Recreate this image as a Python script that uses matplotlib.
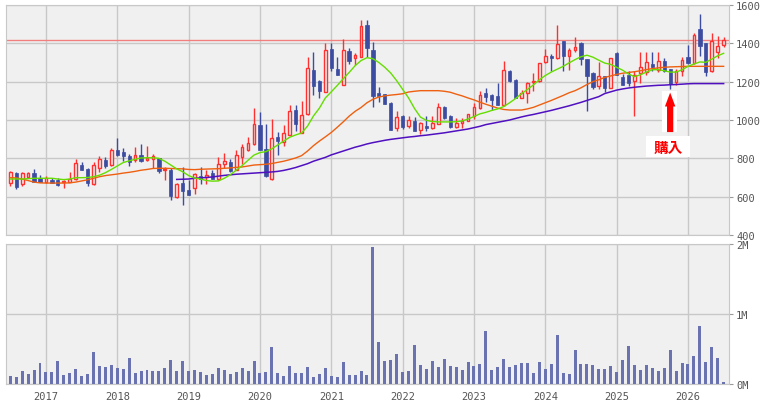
import numpy as np
import pandas as pd
import matplotlib
matplotlib.use("Agg")
import matplotlib.pyplot as plt
from matplotlib.patches import Rectangle

# monthly candles, Jul 2016 .. Jul 2026
months = pd.date_range("2016-07-01", periods=121, freq="MS")

opens = [670, 723, 664, 704, 723, 697, 678, 689, 685, 679, 678, 692, 765, 744, 668, 750, 791, 765, 843, 831,
         810, 791, 816, 790, 795, 802, 737, 741, 598, 671, 635, 643, 706, 701, 723, 690, 769, 779, 739, 805,
         842, 877, 974, 847, 692, 911, 887, 923, 1052, 934, 1031, 1261, 1203, 1144, 1369, 1266, 1184, 1358, 1322, 1330,
         1497, 1363, 1139, 1134, 1089, 958, 1021, 967, 997, 946, 970, 958, 979, 1066, 1019, 962, 984, 997, 1023, 1063,
         1141, 1129, 1124, 1078, 1257, 1207, 1117, 1141, 1200, 1204, 1301, 1336, 1322, 1410, 1336, 1365, 1400, 1318, 1243, 1176,
         1228, 1169, 1350, 1223, 1236, 1202, 1243, 1249, 1290, 1261, 1308, 1266, 1198, 1254, 1329, 1296, 1475, 1400, 1254, 1353,
         1393]
highs = [736, 730, 729, 727, 746, 713, 708, 699, 696, 689, 729, 795, 779, 750, 779, 810, 805, 852, 904, 855,
         821, 859, 875, 863, 821, 804, 753, 748, 670, 757, 685, 725, 757, 741, 741, 807, 828, 797, 845, 875,
         913, 1063, 1040, 979, 1005, 939, 972, 1078, 1077, 1099, 1327, 1357, 1209, 1402, 1402, 1330, 1424, 1376, 1351, 1522,
         1522, 1405, 1172, 1137, 1092, 1045, 1026, 1019, 1014, 988, 1019, 1023, 1087, 1075, 1024, 1009, 1012, 1033, 1089, 1149,
         1165, 1134, 1191, 1306, 1263, 1212, 1157, 1200, 1244, 1299, 1369, 1346, 1496, 1414, 1374, 1433, 1405, 1318, 1252, 1301,
         1228, 1325, 1356, 1240, 1257, 1257, 1353, 1353, 1356, 1356, 1322, 1266, 1266, 1327, 1391, 1454, 1553, 1403, 1452, 1440,
         1431]
lows = [657, 640, 654, 700, 675, 676, 673, 672, 654, 647, 675, 685, 739, 657, 663, 730, 750, 762, 814, 786,
        758, 781, 783, 788, 748, 725, 685, 584, 595, 556, 608, 616, 668, 664, 692, 685, 748, 729, 737, 772,
        840, 871, 845, 701, 685, 819, 866, 921, 943, 932, 1028, 1130, 1115, 1144, 1256, 1236, 1184, 1290, 1289, 1327,
        1327, 1069, 1094, 1082, 948, 944, 955, 958, 943, 925, 943, 953, 977, 1003, 958, 958, 958, 995, 1005, 1059,
        1092, 1054, 1078, 1071, 1197, 1113, 1113, 1089, 1153, 1200, 1296, 1256, 1318, 1254, 1259, 1353, 1285, 1049, 1162, 1162,
        1144, 1169, 1235, 1184, 1179, 1019, 1193, 1235, 1256, 1249, 1252, 1160, 1183, 1231, 1292, 1292, 1336, 1231, 1249, 1322,
        1383]
closes = [730, 652, 722, 722, 678, 678, 696, 673, 659, 684, 692, 776, 741, 671, 765, 795, 762, 842, 819, 814,
          783, 819, 788, 802, 810, 732, 744, 602, 664, 628, 610, 717, 692, 715, 694, 769, 784, 736, 816, 857,
          882, 977, 845, 706, 904, 890, 930, 1045, 979, 1028, 1270, 1179, 1151, 1363, 1270, 1236, 1363, 1306, 1337, 1489,
          1376, 1127, 1125, 1082, 950, 1016, 962, 1000, 944, 983, 957, 986, 1066, 1009, 962, 984, 997, 1029, 1066, 1132,
          1120, 1106, 1078, 1263, 1205, 1117, 1141, 1193, 1203, 1296, 1336, 1325, 1395, 1336, 1367, 1381, 1318, 1231, 1172, 1231,
          1167, 1322, 1235, 1184, 1193, 1236, 1278, 1301, 1275, 1308, 1256, 1186, 1256, 1313, 1296, 1443, 1384, 1249, 1412, 1384,
          1417]

# moving averages
ma_short = [692, 692, 692, 694, 696, 696, 696, 696, 692, 689, 692, 699, 699, 700, 704, 712, 725, 742, 760, 778,
            787, 795, 802, 803, 803, 800, 785, 765, 745, 730, 710, 697, 692, 684, 681, 682, 696, 714, 738, 762,
            790, 817, 830, 835, 850, 870, 890, 910, 922, 932, 968, 1021, 1062, 1115, 1147, 1180, 1215, 1248, 1283, 1310,
            1325, 1320, 1300, 1275, 1245, 1205, 1160, 1115, 1060, 1015, 998, 992, 990, 990, 990, 991, 995, 1005, 1018, 1032,
            1040, 1050, 1058, 1070, 1090, 1112, 1137, 1160, 1183, 1210, 1232, 1250, 1265, 1280, 1298, 1315, 1330, 1338, 1328, 1312,
            1297, 1290, 1275, 1260, 1240, 1226, 1236, 1250, 1262, 1263, 1257, 1250, 1250, 1262, 1280, 1292, 1303, 1301, 1318, 1335,
            1348]
ma_mid = [699, 698, 692, 684, 676, 672, 671, 671, 671, 671, 672, 676, 682, 688, 696, 704, 710, 714, 718, 723,
          727, 732, 738, 742, 747, 748, 748, 747, 746, 745, 742, 741, 743, 744, 745, 746, 748, 750, 753, 755,
          760, 765, 767, 769, 773, 779, 785, 793, 802, 814, 838, 866, 890, 912, 935, 962, 990, 1020, 1045, 1065,
          1090, 1108, 1120, 1126, 1130, 1133, 1137, 1146, 1150, 1153, 1153, 1153, 1153, 1150, 1145, 1135, 1126, 1115, 1105, 1093,
          1082, 1072, 1062, 1055, 1052, 1052, 1052, 1058, 1066, 1078, 1090, 1102, 1115, 1128, 1142, 1153, 1168, 1185, 1200, 1210,
          1222, 1230, 1238, 1244, 1248, 1252, 1257, 1263, 1268, 1272, 1275, 1277, 1278, 1279, 1280, 1280, 1280, 1280, 1280, 1280,
          1280]
ma_long = [np.nan] * 28 + [
           690, 691, 692, 696, 698, 700, 703, 707, 711, 714, 717, 719,
           721, 723, 725, 727, 729, 732, 737, 744, 752, 762, 772, 785, 795, 805, 818, 828, 838, 848, 858, 866,
           875, 882, 888, 894, 899, 903, 907, 911, 914, 918, 921, 925, 929, 933, 938, 943, 948, 953, 960, 967,
           976, 982, 988, 994, 1000, 1008, 1016, 1023, 1029, 1036, 1043, 1050, 1058, 1066, 1074, 1083, 1092, 1102, 1112, 1122,
           1138, 1147, 1156, 1162, 1167, 1171, 1174, 1177, 1179, 1181, 1182, 1184, 1185, 1187, 1189, 1190, 1190, 1190, 1190, 1190,
           1190]

# volume in millions of shares
volume = [0.124, 0.11, 0.19, 0.148, 0.205, 0.305, 0.176, 0.176, 0.333, 0.133, 0.162, 0.219, 0.119, 0.148, 0.462, 0.262, 0.248, 0.276, 0.233, 0.219,
          0.376, 0.162, 0.19, 0.205, 0.19, 0.19, 0.233, 0.348, 0.19, 0.333, 0.19, 0.205, 0.176, 0.133, 0.148, 0.233, 0.205, 0.148, 0.176, 0.233,
          0.19, 0.333, 0.162, 0.176, 0.533, 0.162, 0.119, 0.262, 0.162, 0.162, 0.248, 0.105, 0.148, 0.233, 0.119, 0.105, 0.319, 0.133, 0.133, 0.19,
          0.133, 1.962, 0.605, 0.333, 0.348, 0.433, 0.176, 0.19, 0.562, 0.276, 0.219, 0.333, 0.248, 0.362, 0.262, 0.248, 0.205, 0.319, 0.262, 0.29,
          0.762, 0.205, 0.248, 0.362, 0.248, 0.276, 0.305, 0.305, 0.162, 0.319, 0.219, 0.29, 0.705, 0.162, 0.148, 0.49, 0.29, 0.29, 0.276, 0.219,
          0.219, 0.262, 0.176, 0.348, 0.548, 0.276, 0.205, 0.276, 0.233, 0.19, 0.233, 0.49, 0.19, 0.305, 0.29, 0.405, 0.833, 0.319, 0.533, 0.376,
          0.033]

ref_price = 1415          # horizontal reference line
buy_month = "2025-10-01"  # 購入 marker
buy_label = "購入"

price_ticks = [400, 600, 800, 1000, 1200, 1400, 1600]
vol_ticks = [0, 1, 2]
vol_labels = ["0M", "1M", "2M"]

BG = "#f0f0f0"
GRID = "#c8c8c8"
UP = "#ff3030"
DOWN = "#3c4ca0"
TICK_FONT = "DejaVu Sans Mono"

x = np.arange(len(months))
o = np.array(opens)
c = np.array(closes)
h = np.array(highs)
l = np.array(lows)
up = c >= o

fig = plt.figure(figsize=(7.62, 4.06), dpi=100)
ax = fig.add_axes([6 / 762, 1 - 236 / 406, 723 / 762, 230 / 406])
axv = fig.add_axes([6 / 762, 1 - 385.3 / 406, 723 / 762, 140.3 / 406], sharex=ax)

year_pos = [i for i, m in enumerate(months) if m.month == 1]
year_lab = [str(months[i].year) for i in year_pos]

for a in (ax, axv):
    a.set_facecolor(BG)
    for s in a.spines.values():
        s.set_color(GRID)
    a.set_xticks(year_pos)
    a.grid(True, color=GRID, lw=1)
    a.set_axisbelow(True)
    a.yaxis.tick_right()
    a.tick_params(axis="y", length=3, color="#999999", labelcolor="#555555",
                  labelsize=7.5, pad=2)
    a.tick_params(axis="x", length=0, labelcolor="#555555", labelsize=7.5, pad=5)

# candles: wicks first, then bodies on top
ax.vlines(x[up], l[up], h[up], color=UP, lw=1, zorder=3)
ax.vlines(x[~up], l[~up], h[~up], color=DOWN, lw=1, zorder=3)
body_lo = np.minimum(o, c)
body_h = np.maximum(np.abs(c - o), 3)
ax.bar(x[up], body_h[up], bottom=body_lo[up], width=0.46, facecolor=BG,
       edgecolor=UP, lw=1, zorder=4)
ax.bar(x[~up], body_h[~up], bottom=body_lo[~up], width=0.55, facecolor=DOWN,
       edgecolor=DOWN, lw=0.5, zorder=4)

ax.plot(x, ma_long, color="#5010c0", lw=1.1, zorder=5)
ax.plot(x, ma_mid, color="#ee6010", lw=1.0, zorder=5)
ax.plot(x, ma_short, color="#66dd00", lw=1.0, zorder=5)
ax.axhline(ref_price, color="#f08080", lw=1, zorder=2)

ax.set_ylim(400, 1600)
ax.set_yticks(price_ticks)
ax.set_xlim(-0.72, 120.9)
ax.tick_params(axis="x", labelbottom=False)
for t in ax.get_yticklabels():
    t.set_family(TICK_FONT)

# buy marker
bx = list(months).index(pd.Timestamp(buy_month))
ax.add_patch(Rectangle((bx - 1.4, 936), 2.6, 217, facecolor="white",
                       edgecolor="none", zorder=6))
ax.annotate("", xy=(bx, 1143), xytext=(bx, 937),
            arrowprops=dict(arrowstyle="simple,head_length=1.0,head_width=0.75,tail_width=0.45",
                            fc="#ff0000", ec="none", mutation_scale=10,
                            shrinkA=0, shrinkB=0), zorder=7)
ax.add_patch(Rectangle((bx - 4.1, 805), 7.5, 113, facecolor="white",
                       edgecolor="none", zorder=6))
ax.text(bx - 0.35, 861, buy_label, color="#ff0000", fontsize=10.5, fontweight="bold",
        family=["Noto Sans CJK JP", "DejaVu Sans"], ha="center", va="center", zorder=7)

# volume
axv.bar(x, volume, width=0.5, color="#6b72b0", zorder=3)
axv.set_ylim(0, 2)
axv.set_yticks(vol_ticks)
axv.set_yticklabels(vol_labels)
axv.set_xticklabels(year_lab)
for t in axv.get_yticklabels() + axv.get_xticklabels():
    t.set_family(TICK_FONT)

fig.savefig("out.png", dpi=100, facecolor="white")
